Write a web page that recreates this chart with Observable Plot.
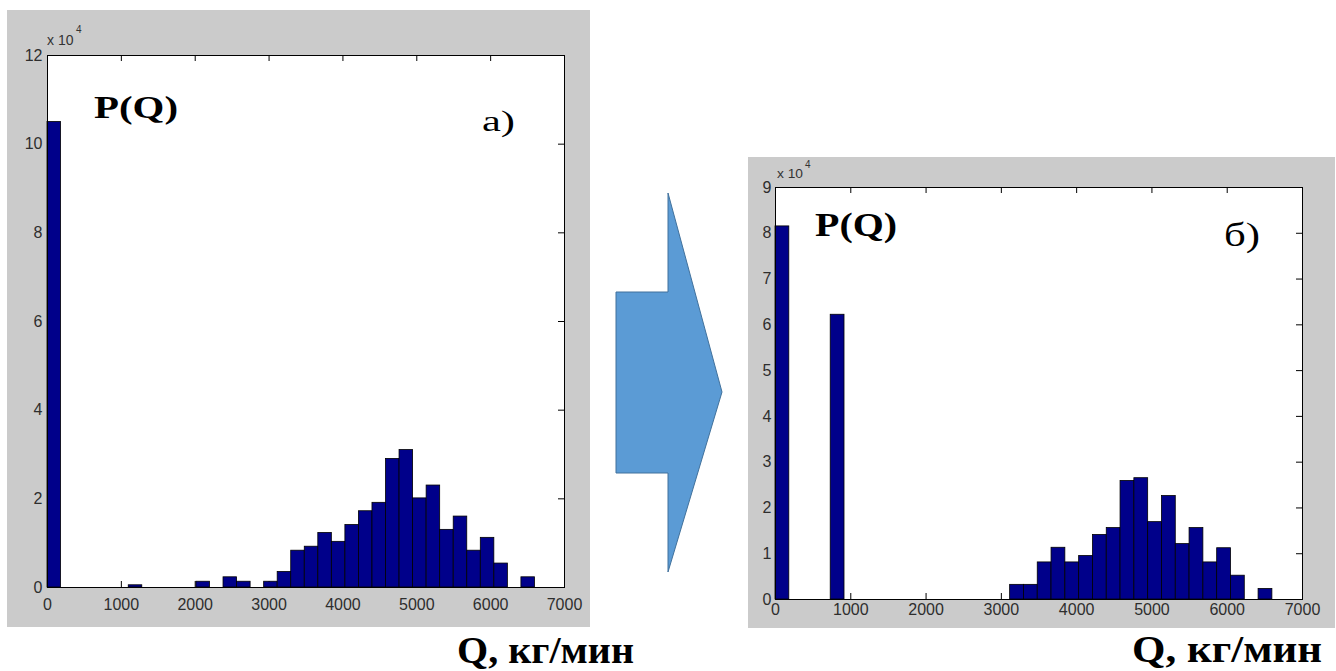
<!DOCTYPE html>
<html><head><meta charset="utf-8">
<script src="https://cdn.jsdelivr.net/npm/d3@7"></script>
<script src="https://cdn.jsdelivr.net/npm/@observablehq/plot@0.6"></script>
<style>
body{margin:0;background:#fff;}
#wrap{position:relative;width:1336px;height:671px;overflow:hidden;background:#fff;}
.panel{position:absolute;}
.panel svg g[aria-label$="tick label"]{font-size:16px !important;font-family:'Liberation Sans',Arial,sans-serif !important;}
.panel svg g[aria-label$="tick label"] text{font-size:16px !important;}
#overlay{position:absolute;left:0;top:0;pointer-events:none;}
</style></head><body>
<div id="wrap"><div id="pa" class="panel" style="left:7px;top:10px"></div><div id="pb" class="panel" style="left:748px;top:157px"></div>
<svg id="overlay" width="1336" height="671"></svg></div>
<script>
// ---- data (bin counts in units of 10^4) ----
const binCount = 36;
const qMax = 6600;
const binWidth = qMax / binCount;
const xTicks = [0, 1000, 2000, 3000, 4000, 5000, 6000, 7000];
const yTicksA = [0, 2, 4, 6, 8, 10, 12];
const yTicksB = [0, 1, 2, 3, 4, 5, 6, 7, 8, 9];
const countsA = [10.5, 0, 0, 0, 0, 0, 0.05, 0, 0, 0, 0, 0.13, 0, 0.23, 0.13, 0, 0.13, 0.35,
  0.83, 0.92, 1.23, 1.03, 1.41, 1.72, 1.91, 2.90, 3.10, 2.01, 2.30, 1.30, 1.60, 0.83, 1.12, 0.54, 0, 0.23];
const countsB = [8.15, 0, 0, 0, 6.22, 0, 0, 0, 0, 0, 0, 0, 0, 0, 0, 0, 0, 0.32,
  0.32, 0.81, 1.13, 0.81, 0.95, 1.41, 1.56, 2.59, 2.65, 1.69, 2.26, 1.21, 1.56, 0.81, 1.12, 0.52, 0, 0.23];
const labelP = "P(Q)";
const labelA = "a)";
const labelB = "б)";
const labelQ = "Q, кг/мин";
const labelExp = "x 10";
const labelExpPow = "4";

function hist(counts, yTicks, o) {
  const rows = counts.map((c, i) => ({x1: i * binWidth, x2: (i + 1) * binWidth, y: c})).filter(d => d.y > 0);
  const ymax = yTicks[yTicks.length - 1];
  const xmax = xTicks[xTicks.length - 1];
  const pw = o.width - o.ml - o.mr, ph = o.height - o.mt - o.mb;
  const tx = 6 / pw * xmax, ty = 6 / ph * ymax;
  return Plot.plot({
    width: o.width, height: o.height,
    marginLeft: o.ml, marginRight: o.mr, marginTop: o.mt, marginBottom: o.mb,
    style: {background: "#cbcbcb", fontFamily: "'Liberation Sans', Arial, sans-serif", fontSize: "16px", color: "#2e2e2e"},
    x: {domain: [0, xmax]},
    y: {domain: [0, ymax]},
    marks: [
      Plot.frame({fill: "white", stroke: "none"}),
      Plot.ruleX(xTicks, {y1: 0, y2: ty, stroke: "black"}),
      Plot.ruleX(xTicks, {y1: ymax - ty, y2: ymax, stroke: "black"}),
      Plot.ruleY(yTicks, {x1: 0, x2: tx, stroke: "black"}),
      Plot.ruleY(yTicks, {x1: xmax - tx, x2: xmax, stroke: "black"}),
      Plot.rectY(rows, {x1: "x1", x2: "x2", y: "y", fill: "#00008a", stroke: "black", strokeWidth: 0.8, inset: 0}),
      Plot.frame({stroke: "black", strokeWidth: 1}),
      Plot.axisX(xTicks, {tickSize: 0, tickPadding: o.px, fontSize: 16, tickFormat: d => String(d), label: null}),
      Plot.axisY(yTicks, {tickSize: 0, tickPadding: o.py, fontSize: 16, tickFormat: d => String(d), label: null})
    ]
  });
}

document.getElementById("pa").append(hist(countsA, yTicksA, {width: 583, height: 617, ml: 40, mr: 26, mt: 45, mb: 40, px: 11, py: 5}));
document.getElementById("pb").append(hist(countsB, yTicksB, {width: 587, height: 471, ml: 27, mr: 33, mt: 30, mb: 29, px: 4, py: 4}));

// ---- overlay: arrow and annotations ----
const svg = d3.select("#overlay");
svg.append("polygon")
  .attr("points", "668,193 668,292 616,292 616,473 668,473 668,572 722,392")
  .attr("fill", "#5b9bd5").attr("stroke", "#41719c").attr("stroke-width", 1);

function txt(s, x, y, size, weight, len, family) {
  const t = svg.append("text").attr("x", x).attr("y", y)
    .attr("font-family", family || "'Liberation Serif', 'Times New Roman', serif")
    .attr("font-size", size).attr("font-weight", weight).attr("fill", "black").text(s);
  if (len) t.attr("textLength", len).attr("lengthAdjust", "spacingAndGlyphs");
  return t;
}
txt(labelP, 94, 118, 31, "bold", 84);
txt(labelA, 482, 131, 30, "normal", 33);
txt(labelP, 815, 236, 34, "bold", 82);
txt(labelB, 1224, 246, 33, "normal", 36);
txt(labelQ, 457, 663, 37, "bold", 177);
txt(labelQ, 1132, 662, 37, "bold", 190);
const sans = "'Liberation Sans', Arial, sans-serif";
txt(labelExp, 47, 45, 14, "normal", null, sans).attr("fill", "#333");
txt(labelExpPow, 76, 33, 10, "normal", null, sans).attr("fill", "#333");
txt(labelExp, 777, 178, 12, "normal", 26, sans).attr("fill", "#333");
txt(labelExpPow, 805, 168, 10, "normal", null, sans).attr("fill", "#333");
</script>
</body></html>
